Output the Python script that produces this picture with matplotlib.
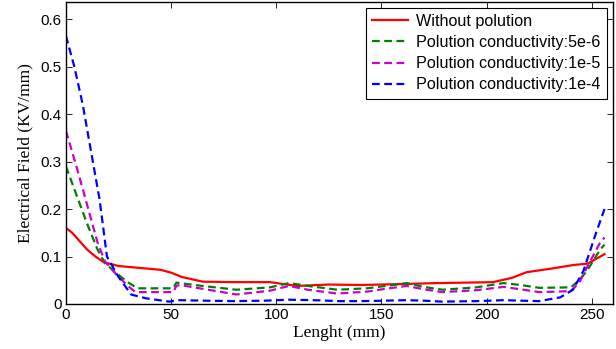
import numpy as np
import matplotlib.pyplot as plt

# ---- data ----
x_clean = [0, 3, 6, 10, 14, 18, 25, 35, 45, 50, 55, 65, 80, 97, 110, 125, 140, 160, 176, 190,
           203, 212, 219, 230, 241, 248, 254, 256]
y_clean = [0.160, 0.150, 0.135, 0.115, 0.100, 0.088, 0.080, 0.076, 0.072, 0.066, 0.057, 0.047,
           0.046, 0.046, 0.038, 0.041, 0.040, 0.042, 0.044, 0.045, 0.046, 0.055, 0.067, 0.074,
           0.082, 0.085, 0.100, 0.105]

x_5e6 = [0, 5, 10, 15, 18.5, 24, 29, 34, 51, 52.5, 54, 65, 81, 97, 106, 115, 129, 143, 152,
         162, 170, 179, 195, 208, 216, 225, 240, 244, 248, 254, 256]
y_5e6 = [0.290, 0.230, 0.170, 0.115, 0.086, 0.065, 0.047, 0.033, 0.033, 0.045, 0.044, 0.038,
         0.030, 0.035, 0.044, 0.038, 0.030, 0.033, 0.038, 0.044, 0.036, 0.030, 0.035, 0.044,
         0.040, 0.034, 0.035, 0.050, 0.072, 0.115, 0.125]

x_1e5 = [0, 5, 10, 15, 18.5, 24, 29, 33, 51, 52.5, 54, 65, 81, 97, 106, 115, 129, 143, 152,
         162, 170, 179, 195, 208, 216, 225, 240, 244, 248, 254, 256]
y_1e5 = [0.365, 0.290, 0.210, 0.130, 0.090, 0.062, 0.040, 0.025, 0.025, 0.038, 0.040, 0.032,
         0.020, 0.028, 0.038, 0.030, 0.022, 0.026, 0.032, 0.038, 0.031, 0.025, 0.029, 0.036,
         0.031, 0.025, 0.027, 0.045, 0.080, 0.130, 0.140]

x_1e4 = [0, 4, 8, 12, 16, 19.5, 25, 31, 38, 49, 54, 65, 80, 95, 106, 118, 130, 140, 152, 162,
         170, 179, 195, 208, 216, 225, 235, 241, 246, 252, 256]
y_1e4 = [0.565, 0.500, 0.420, 0.320, 0.220, 0.100, 0.057, 0.020, 0.012, 0.005, 0.008, 0.007,
         0.006, 0.007, 0.009, 0.008, 0.006, 0.006, 0.007, 0.008, 0.007, 0.005, 0.006, 0.008,
         0.007, 0.006, 0.014, 0.030, 0.070, 0.150, 0.200]

labels = ["Without polution",
          "Polution conductivity:5e-6",
          "Polution conductivity:1e-5",
          "Polution conductivity:1e-4"]

x_ticks = [0, 50, 100, 150, 200, 250]
y_ticks = [0, 0.1, 0.2, 0.3, 0.4, 0.5, 0.6]

plt.rcParams["font.family"] = "Liberation Sans"

fig = plt.figure(figsize=(6.16, 3.49), dpi=100)
ax = fig.add_axes([0.107, 0.129, 0.888, 0.865])

ax.plot(x_clean, y_clean, color="#ff0000", lw=1.6, label=labels[0])
ax.plot(x_5e6, y_5e6, color="#008000", lw=1.6, ls=(0, (3.5, 2)), label=labels[1])
ax.plot(x_1e5, y_1e5, color="#cc00cc", lw=1.6, ls=(0, (3.5, 2)), label=labels[2])
ax.plot(x_1e4, y_1e4, color="#0000ff", lw=1.6, ls=(0, (3.5, 2)), label=labels[3])

ax.set_xlim(0, 260)
ax.set_ylim(0, 0.636)
ax.set_xticks(x_ticks)
ax.set_yticks(y_ticks)
ax.set_xticklabels([str(v) for v in x_ticks])
ax.set_yticklabels(["0"] + [f"{v:.1f}" for v in y_ticks[1:]])
ax.tick_params(direction="in", top=True, right=True, length=4, width=0.6,
               labelsize=11, colors="black", pad=3)
for sp in ax.spines.values():
    sp.set_linewidth(1.0)

ax.set_xlabel("Lenght (mm)", family="Liberation Serif", fontsize=12.5, labelpad=2)
ax.set_ylabel("Electrical Field (KV/mm)", family="Liberation Serif", fontsize=12.5, labelpad=5)

leg = ax.legend(loc="upper right", bbox_to_anchor=(0.9885, 0.982), fontsize=11.6,
                fancybox=False, framealpha=1, edgecolor="black", handlelength=2.2,
                handletextpad=0.5, borderpad=0.4, labelspacing=0.38, borderaxespad=0)
leg.get_frame().set_linewidth(0.8)

fig.savefig("out.png", dpi=100)
